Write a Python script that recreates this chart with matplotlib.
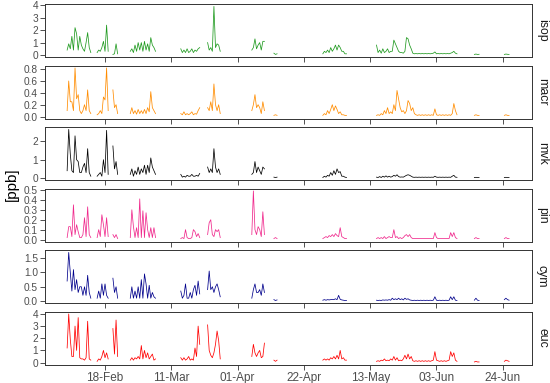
import numpy as np
import pandas as pd
import matplotlib
matplotlib.use("Agg")
import matplotlib.pyplot as plt
import matplotlib.dates as mdates

plt.rcParams['font.family'] = ['Liberation Sans', 'DejaVu Sans']

# ---------------- data (12-hour samples, measurement campaigns) ----------------
seg_start = ['2019-02-06 00:00', '2019-02-15 12:00', '2019-02-20 12:00', '2019-02-26 00:00',
             '2019-03-14 00:00', '2019-03-22 12:00', '2019-04-05 12:00', '2019-04-12 12:00',
             '2019-04-28 00:00', '2019-05-15 00:00', '2019-06-15 00:00', '2019-06-24 12:00']

species = ['isop', 'macr', 'mvk', 'pin', 'cym', 'euc']
colors = ['#1f9a1f', '#ff8c00', '#000000', '#f0288c', '#00008b', '#ff0000']

isop = [
    [0.4, 0.9, 0.5, 1.5, 0.4, 2.2, 1.7, 0.4, 1.5, 0.8, 0.5, 0.3, 1.0, 1.8, 0.6, 0.2],
    [0.2, 0.4, 0.3, 0.6, 1.1, 0.3, 2.4, 0.3],
    [0.05, 0.1, 0.9, 0.1],
    [0.3, 0.5, 0.2, 0.8, 0.3, 1.0, 0.4, 1.0, 0.3, 1.1, 0.4, 0.9, 0.3, 1.4, 0.8, 0.6, 0.3],
    [0.5, 0.2, 0.4, 0.2, 0.5, 0.2, 0.3, 0.5, 0.2, 0.4, 0.3, 0.5, 0.6],
    [1.0, 0.4, 0.6, 0.3, 3.9, 0.6, 0.9, 0.8, 0.3],
    [0.4, 0.6, 1.3, 0.5, 0.8, 1.0, 0.4, 1.1, 1.1],
    [0.15, 0.05, 0.1],
    [0.1, 0.3, 0.2, 0.4, 0.2, 0.6, 0.3, 0.5, 0.8, 0.4, 0.8, 0.6, 0.3, 0.3, 0.1, 0.1],
    [0.8, 0.2, 0.4, 0.15, 0.5, 0.2, 0.3, 0.5, 0.2, 0.3,
     0.3, 1.2, 0.9, 0.6, 0.3, 0.2, 0.2, 0.15, 0.3, 1.4,
     1.3, 0.8, 0.5, 0.15, 0.1, 0.12, 0.1, 0.12, 0.1, 0.12,
     0.1, 0.12, 0.1, 0.12, 0.1, 0.12, 0.15, 0.25, 0.1, 0.12,
     0.1, 0.12, 0.1, 0.12, 0.1, 0.12, 0.1, 0.15, 0.2, 0.3, 0.15, 0.1],
    [0.05, 0.08, 0.05, 0.06],
    [0.05, 0.08, 0.06, 0.05],
]

macr = [
    [0.1, 0.6, 0.25, 0.25, 0.1, 0.82, 0.3, 0.37, 0.1, 0.05, 0.1, 0.2, 0.1, 0.45, 0.1, 0.05],
    [0.03, 0.05, 0.1, 0.05, 0.33, 0.28, 0.82, 0.1],
    [0.45, 0.15, 0.2, 0.05],
    [0.05, 0.15, 0.05, 0.1, 0.04, 0.12, 0.05, 0.1, 0.05, 0.12, 0.05, 0.15, 0.08, 0.42, 0.15, 0.1, 0.05],
    [0.05, 0.03, 0.08, 0.03, 0.05, 0.03, 0.05, 0.08, 0.03, 0.05, 0.04, 0.1, 0.15],
    [0.15, 0.1, 0.25, 0.1, 0.55, 0.2, 0.1, 0.2, 0.05],
    [0.1, 0.2, 0.37, 0.15, 0.2, 0.15, 0.05, 0.25, 0.1],
    [0.02, 0.03, 0.02],
    [0.02, 0.05, 0.03, 0.1, 0.05, 0.12, 0.2, 0.1, 0.18, 0.12, 0.05, 0.08, 0.03, 0.03, 0.02, 0.02],
    [0.02, 0.03, 0.02, 0.05, 0.03, 0.1, 0.05, 0.15, 0.05, 0.08,
     0.05, 0.2, 0.1, 0.44, 0.3, 0.15, 0.08, 0.1, 0.05, 0.1,
     0.27, 0.22, 0.1, 0.15, 0.05, 0.03, 0.02, 0.03, 0.02, 0.03,
     0.02, 0.03, 0.02, 0.03, 0.02, 0.03, 0.02, 0.13, 0.03, 0.02,
     0.03, 0.02, 0.03, 0.02, 0.03, 0.02, 0.03, 0.02, 0.05, 0.22, 0.1, 0.03],
    [0.02, 0.03, 0.02, 0.02],
    [0.02, 0.03, 0.02, 0.02],
]

mvk = [
    [0.4, 2.65, 1.3, 0.4, 0.3, 2.3, 1.0, 0.9, 0.3, 0.3, 0.6, 0.8, 0.3, 1.6, 0.3, 0.1],
    [0.1, 0.2, 0.3, 0.1, 1.0, 0.3, 2.6, 0.2],
    [1.75, 0.5, 0.9, 0.2],
    [0.2, 0.5, 0.1, 0.4, 0.2, 0.6, 0.2, 0.5, 0.3, 0.7, 0.2, 0.7, 0.3, 1.1, 0.6, 0.4, 0.2],
    [0.2, 0.05, 0.1, 0.05, 0.15, 0.1, 0.1, 0.2, 0.1, 0.1, 0.15, 0.1, 0.25],
    [0.6, 0.3, 0.5, 0.3, 1.6, 0.6, 0.3, 0.5, 0.2],
    [0.2, 0.3, 0.9, 0.3, 0.6, 0.4, 0.2, 0.6, 0.5],
    [0.05, 0.03, 0.05],
    [0.03, 0.1, 0.05, 0.15, 0.1, 0.3, 0.15, 0.4, 0.2, 0.5, 0.3, 0.35, 0.1, 0.1, 0.05, 0.03],
    [0.05, 0.03, 0.08, 0.03, 0.1, 0.05, 0.12, 0.05, 0.1, 0.05,
     0.08, 0.15, 0.1, 0.18, 0.08, 0.05, 0.06, 0.05, 0.1, 0.15,
     0.18, 0.15, 0.1, 0.05, 0.04, 0.05, 0.04, 0.05, 0.04, 0.05,
     0.04, 0.05, 0.04, 0.05, 0.04, 0.05, 0.04, 0.1, 0.05, 0.04,
     0.05, 0.04, 0.05, 0.04, 0.05, 0.04, 0.05, 0.04, 0.1, 0.15, 0.05, 0.04],
    [0.03, 0.04, 0.03, 0.03],
    [0.03, 0.04, 0.03, 0.03],
]

pin = [
    [0.02, 0.13, 0.13, 0.03, 0.35, 0.05, 0.15, 0.08, 0.02, 0.02, 0.05, 0.22, 0.03, 0.33, 0.05, 0.02],
    [0.02, 0.1, 0.03, 0.25, 0.15, 0.03, 0.22, 0.03],
    [0.05, 0.02, 0.05, 0.01],
    [0.02, 0.3, 0.13, 0.02, 0.12, 0.02, 0.41, 0.02, 0.29, 0.02, 0.27, 0.1, 0.02, 0.12, 0.02, 0.12, 0.02],
    [0.01, 0.02, 0.01, 0.1, 0.02, 0.01, 0.01, 0.02, 0.1, 0.08, 0.03, 0.06, 0.02],
    [0.05, 0.17, 0.2, 0.05, 0.03, 0.1, 0.08, 0.1, 0.02],
    [0.05, 0.49, 0.1, 0.05, 0.13, 0.1, 0.03, 0.28, 0.05],
    [0.01, 0.02, 0.01],
    [0.01, 0.02, 0.03, 0.02, 0.04, 0.03, 0.05, 0.03, 0.06, 0.04, 0.03, 0.12, 0.03, 0.02, 0.01, 0.01],
    [0.01, 0.02, 0.01, 0.02, 0.01, 0.03, 0.01, 0.02, 0.03, 0.02,
     0.02, 0.1, 0.02, 0.03, 0.01, 0.02, 0.01, 0.02, 0.04, 0.05,
     0.03, 0.05, 0.02, 0.01, 0.01, 0.01, 0.01, 0.01, 0.01, 0.01,
     0.01, 0.01, 0.01, 0.01, 0.01, 0.01, 0.01, 0.07, 0.02, 0.01,
     0.01, 0.01, 0.01, 0.01, 0.01, 0.01, 0.01, 0.07, 0.03, 0.07, 0.02, 0.01],
    [0.01, 0.02, 0.01, 0.01],
    [0.01, 0.02, 0.01, 0.01],
]

cym = [
    [0.7, 1.7, 1.0, 0.35, 1.1, 0.4, 0.75, 0.3, 0.5, 0.5, 0.2, 0.5, 0.2, 0.9, 0.3, 0.1],
    [0.1, 0.35, 0.1, 0.6, 0.2, 0.6, 0.2, 0.1],
    [0.8, 0.3, 0.5, 0.1],
    [0.1, 0.5, 0.1, 0.35, 0.1, 0.5, 0.1, 0.75, 0.1, 0.95, 0.6, 0.1, 0.55, 0.1, 0.3, 0.15, 0.1],
    [0.35, 0.1, 0.2, 0.6, 0.1, 0.1, 0.3, 0.1, 0.4, 0.55, 0.2, 0.7, 0.25],
    [0.4, 1.05, 0.4, 0.5, 0.3, 0.5, 0.6, 0.4, 0.15],
    [0.1, 0.4, 0.6, 0.3, 0.3, 0.4, 0.2, 0.6, 0.3],
    [0.05, 0.02, 0.04],
    [0.03, 0.05, 0.03, 0.05, 0.04, 0.05, 0.06, 0.05, 0.08, 0.05, 0.2, 0.06, 0.04, 0.03, 0.02, 0.02],
    [0.03, 0.02, 0.03, 0.02, 0.04, 0.03, 0.04, 0.03, 0.05, 0.03,
     0.1, 0.05, 0.08, 0.05, 0.1, 0.05, 0.08, 0.04, 0.1, 0.06,
     0.08, 0.04, 0.03, 0.02, 0.03, 0.02, 0.03, 0.02, 0.03, 0.02,
     0.03, 0.02, 0.03, 0.02, 0.03, 0.02, 0.03, 0.15, 0.03, 0.02,
     0.03, 0.02, 0.03, 0.02, 0.03, 0.02, 0.03, 0.15, 0.05, 0.15, 0.03, 0.02],
    [0.03, 0.1, 0.03, 0.02],
    [0.05, 0.1, 0.05, 0.03],
]

euc = [
    [1.2, 4.0, 1.9, 0.5, 0.5, 3.0, 1.0, 3.7, 0.4, 0.3, 0.3, 0.2, 0.4, 3.4, 0.3, 0.2],
    [0.1, 0.3, 0.2, 0.5, 1.0, 0.4, 0.8, 0.3],
    [2.8, 0.7, 3.5, 0.5],
    [0.2, 0.4, 0.2, 0.4, 0.3, 0.5, 0.3, 1.4, 0.3, 1.0, 0.4, 0.8, 0.3, 0.5, 0.7, 0.2, 0.3],
    [0.4, 0.2, 0.4, 0.2, 0.3, 0.5, 0.2, 0.3, 0.2, 1.2, 0.5, 3.0, 1.5],
    [3.1, 1.0, 0.6, 0.4, 0.8, 1.5, 2.6, 1.8, 0.3],
    [0.5, 1.5, 0.8, 0.5, 0.8, 1.0, 0.4, 0.5, 1.6],
    [0.2, 0.1, 0.2],
    [0.2, 0.3, 0.2, 0.3, 0.2, 0.4, 0.3, 0.5, 0.3, 0.6, 0.3, 1.0, 0.3, 0.4, 0.2, 0.2],
    [0.1, 0.15, 0.1, 0.2, 0.15, 0.3, 0.15, 0.2, 0.15, 0.3,
     0.2, 0.5, 0.2, 0.4, 0.15, 0.2, 0.15, 0.3, 0.6, 0.3,
     0.7, 0.3, 0.5, 0.15, 0.1, 0.15, 0.1, 0.15, 0.1, 0.15,
     0.1, 0.15, 0.1, 0.15, 0.1, 0.15, 0.2, 0.9, 0.2, 0.15,
     0.1, 0.15, 0.1, 0.15, 0.1, 0.15, 0.2, 0.9, 0.5, 0.8, 0.2, 0.1],
    [0.05, 0.1, 0.05, 0.05],
    [0.1, 0.2, 0.15, 0.1],
]

series = [isop, macr, mvk, pin, cym, euc]

y_ticks = [[0, 1, 2, 3, 4],
           [0.0, 0.2, 0.4, 0.6, 0.8],
           [0, 1, 2],
           [0.0, 0.1, 0.2, 0.3, 0.4, 0.5],
           [0.0, 0.5, 1.0, 1.5],
           [0, 1, 2, 3, 4]]
y_fmt = ['{:.0f}', '{:.1f}', '{:.0f}', '{:.1f}', '{:.1f}', '{:.0f}']

x_ticks = ['2019-02-18', '2019-03-11', '2019-04-01', '2019-04-22',
           '2019-05-13', '2019-06-03', '2019-06-24']


def build(segs):
    xs, ys = [], []
    for start, vals in zip(seg_start, segs):
        t = pd.date_range(start, periods=len(vals), freq='12h')
        xs.extend(mdates.date2num(t.to_pydatetime()))
        ys.extend(vals)
        xs.append(xs[-1] + 0.25)
        ys.append(np.nan)
    return np.array(xs), np.array(ys)


fig = plt.figure(figsize=(5.5, 3.83), dpi=100)
gs = fig.add_gridspec(6, 1, left=45 / 550, right=532 / 550,
                      top=1 - 4 / 383, bottom=1 - 365 / 383, hspace=0.15)

all_x = np.concatenate([build(s)[0] for s in series])
xmin, xmax = np.nanmin(all_x[:-1]), np.nanmax(all_x[:-1])
xr = xmax - xmin

for i, (name, segs, col) in enumerate(zip(species, series, colors)):
    ax = fig.add_subplot(gs[i])
    x, y = build(segs)
    ax.plot(x, y, color=col, lw=0.55)
    ymax = np.nanmax(y)
    ymin = 0.0
    rng = ymax - ymin
    ax.set_ylim(ymin - 0.05 * rng, ymax + 0.05 * rng)
    ax.set_xlim(xmin - 0.05 * xr, xmax + 0.05 * xr)
    ax.set_yticks(y_ticks[i])
    ax.set_yticklabels([y_fmt[i].format(v) for v in y_ticks[i]])
    ax.set_xticks(mdates.date2num(pd.to_datetime(x_ticks).to_pydatetime()))
    if i == 5:
        ax.set_xticklabels(pd.to_datetime(x_ticks).strftime('%d-%b'))
    else:
        ax.set_xticklabels([])
    ax.tick_params(direction='out', length=3.5, width=0.6, color='#333333',
                   labelsize=8.5, labelcolor='#4d4d4d', pad=1.5)
    ax.tick_params(axis='y', labelsize=7.3)
    for sp in ax.spines.values():
        sp.set_color('#333333')
        sp.set_linewidth(0.7)
    ax.text(1 + 10 / 487, 0.5, name, transform=ax.transAxes, rotation=270,
            ha='center', va='center', fontsize=8.8, color='#1a1a1a')

fig.text(12 / 550, 1 - 184.5 / 383, '[ppb]', rotation=90, ha='center', va='center',
         fontsize=11, color='black')

fig.savefig('out.png', dpi=100)
